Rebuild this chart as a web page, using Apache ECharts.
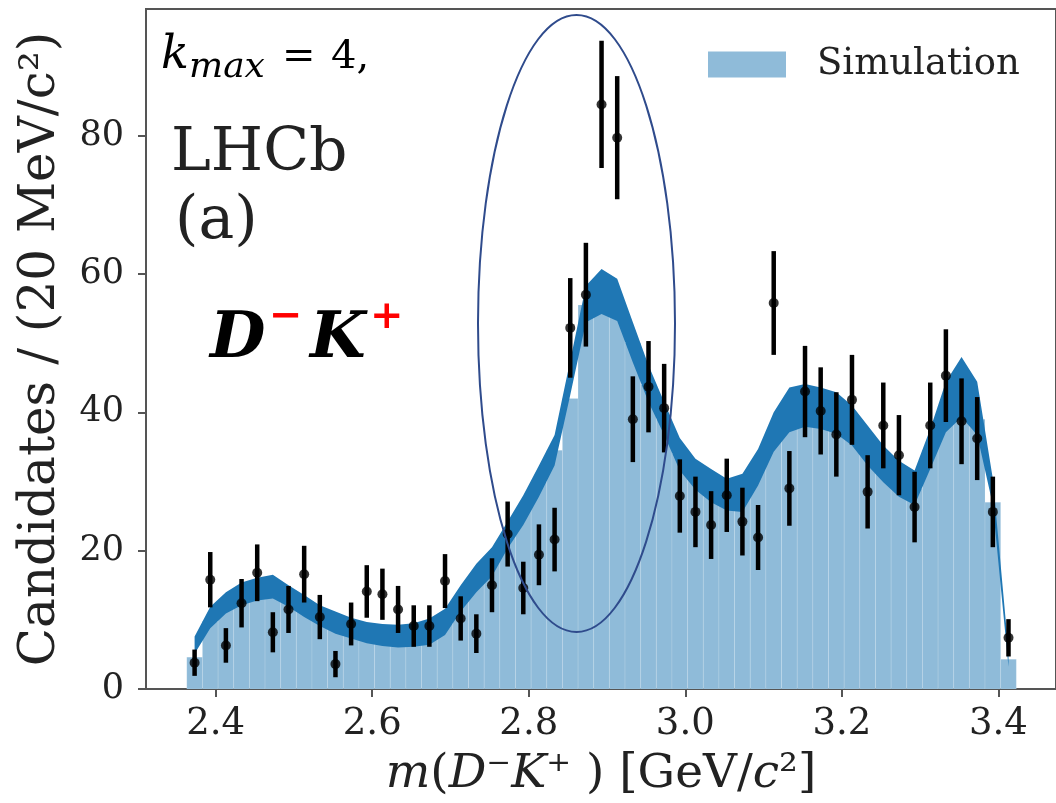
<!DOCTYPE html>
<html>
<head>
<meta charset="utf-8">
<script src="https://cdn.jsdelivr.net/npm/echarts@6/dist/echarts.min.js"></script>
<style>
  html, body { margin: 0; padding: 0; background: #fff; }
  #chart { width: 1056px; height: 803px; }
</style>
</head>
<body>
<div id="chart"></div>
<script>
// bin centres, 20 MeV bins
var binCenters = [2.373, 2.393, 2.413, 2.433, 2.453, 2.473, 2.493, 2.513, 2.533, 2.553,
  2.573, 2.593, 2.613, 2.633, 2.653, 2.673, 2.693, 2.713, 2.733, 2.753,
  2.773, 2.793, 2.813, 2.833, 2.853, 2.873, 2.893, 2.913, 2.933, 2.953,
  2.973, 2.993, 3.013, 3.033, 3.053, 3.073, 3.093, 3.113, 3.133, 3.153,
  3.173, 3.193, 3.213, 3.233, 3.253, 3.273, 3.293, 3.313, 3.333, 3.353,
  3.373, 3.393, 3.413];
var binHalfWidth = 0.01;

// data points and their errors
var dataCounts = [3.8, 15.8, 6.3, 12.4, 16.8, 8.2, 11.5, 16.6, 10.4, 3.6,
  9.4, 14.1, 13.7, 11.5, 9.1, 9.1, 15.6, 10.2, 8.0, 15.0,
  22.4, 14.6, 19.4, 21.6, 52.2, 57.0, 84.5, 79.7, 39.0, 43.7,
  40.6, 27.9, 25.6, 23.7, 28.0, 24.2, 21.9, 55.8, 29.0, 43.0,
  40.2, 36.8, 41.8, 28.5, 38.1, 33.8, 26.3, 38.1, 45.3, 38.7,
  36.2, 25.6, 7.4];
var dataErrors = [1.9, 4.0, 2.5, 3.5, 4.1, 2.9, 3.4, 4.1, 3.2, 1.9,
  3.1, 3.8, 3.7, 3.4, 3.0, 3.0, 3.9, 3.2, 2.8, 3.9,
  4.7, 3.8, 4.4, 4.6, 7.2, 7.5, 9.2, 8.9, 6.2, 6.6,
  6.4, 5.3, 5.1, 4.9, 5.3, 4.9, 4.7, 7.5, 5.4, 6.6,
  6.3, 6.1, 6.5, 5.3, 6.2, 5.8, 5.1, 6.2, 6.7, 6.2,
  6.0, 5.1, 2.7];

// simulation: histogram and band
var simHist = [4.6, 9.8, 11.9, 13.1, 13.8, 14.1, 12.9, 11.4, 10.1, 9.0,
  8.3, 7.6, 7.2, 7.0, 7.1, 7.6, 9.4, 13.0, 16.0, 18.4,
  22.2, 25.8, 30.0, 34.5, 42.0, 55.5, 57.0, 56.0, 50.0, 44.0,
  39.0, 34.0, 31.0, 29.3, 28.0, 28.0, 32.0, 37.0, 40.0, 40.8,
  40.5, 39.7, 38.0, 35.0, 32.5, 30.3, 29.0, 34.5, 40.5, 43.0,
  39.0, 27.0, 4.3];
var bandLow = [5.1, 8.8, 10.9, 12.1, 12.8, 13.1, 11.9, 10.4, 9.1, 8.0,
  7.3, 6.6, 6.2, 6.0, 6.1, 6.4, 7.8, 11.2, 14.0, 16.3,
  20.3, 23.7, 27.8, 32.3, 42.5, 53.0, 54.2, 53.2, 47.2, 41.5,
  36.7, 31.6, 28.8, 27.0, 25.8, 25.6, 29.4, 34.3, 37.1, 37.9,
  37.6, 36.9, 35.2, 32.3, 29.9, 27.8, 26.6, 31.8, 37.1, 39.3,
  36.7, 26.6, 3.2];
var bandHigh = [7.6, 11.9, 14.0, 15.4, 16.1, 16.5, 15.0, 13.6, 12.1, 11.2,
  10.3, 9.7, 9.4, 9.3, 9.5, 10.2, 11.6, 15.0, 18.1, 20.5,
  24.2, 28.0, 32.3, 36.7, 47.5, 58.3, 60.7, 59.3, 53.0, 46.8,
  41.5, 36.3, 33.3, 31.8, 30.4, 31.1, 34.7, 40.0, 43.6, 44.1,
  43.6, 42.9, 41.0, 38.1, 35.2, 33.0, 31.6, 37.6, 44.4, 48.0,
  44.4, 30.4, 5.5];

var xTicks = [2.4, 2.6, 2.8, 3.0, 3.2, 3.4];
var yTicks = [0, 20, 40, 60, 80];

var chart = echarts.init(document.getElementById('chart'));

var serif = 'DejaVu Serif';
var lightBlue = '#8fbbd9';
var darkBlue = '#1f77b4';

// small helper for the free-standing labels
function label(text, left, top, size, extra) {
  var ts = { fontFamily: serif, fontSize: size, fontWeight: 'normal', color: '#000' };
  for (var k in extra) ts[k] = extra[k];
  return { text: text, left: left, top: top, padding: 0, textStyle: ts };
}

chart.setOption({
  animation: false,
  title: [
    label('k', 161, 33, 46, { fontStyle: 'italic' }),
    label('max', 189, 50, 36, { fontStyle: 'italic' }),
    label('=', 282, 38, 40),
    label('4,', 331, 38, 40),
    label('LHCb', 171, 124, 60, { color: '#222' }),
    label('(a)', 175, 192, 60, { color: '#222' }),
    label('D', 210, 308, 64, { fontStyle: 'italic', fontWeight: 'bold' }),
    label('\u2212', 269, 298, 40, { fontWeight: 'bold', color: '#ff0000' }),
    label('K', 310, 308, 64, { fontStyle: 'italic', fontWeight: 'bold' }),
    label('+', 370, 298, 40, { fontWeight: 'bold', color: '#ff0000' })
  ],
  grid: {
    left: 146, top: 9, right: -4, bottom: 112,
    show: true, borderColor: '#555', borderWidth: 2, backgroundColor: 'transparent'
  },
  legend: {
    data: [{ name: 'Simulation', icon: 'rect' }],
    left: 708, top: 46, padding: 0,
    itemWidth: 78, itemHeight: 26,
    selectedMode: false,
    textStyle: { fontFamily: serif, fontSize: 37, color: '#222', padding: [0, 0, 0, 26] }
  },
  xAxis: {
    type: 'value',
    min: 2.3109,
    max: 3.4737,
    splitLine: { show: false },
    axisLine: { lineStyle: { color: '#555', width: 2 } },
    axisTick: { customValues: xTicks, length: 8, lineStyle: { color: '#555', width: 2 } },
    axisLabel: {
      customValues: xTicks, margin: 17,
      fontFamily: serif, fontSize: 37, color: '#222',
      formatter: function (v) { return v.toFixed(1); }
    },
    name: '{it|m}({it|D}\u207B{it|K}\u207A ) [GeV/{it|c}\u00B2]',
    nameLocation: 'middle',
    nameGap: 62,
    nameTextStyle: {
      fontFamily: serif, fontSize: 47, color: '#222',
      rich: { it: { fontFamily: serif, fontSize: 47, fontStyle: 'italic', color: '#222' } }
    }
  },
  yAxis: {
    type: 'value',
    min: 0, max: 98.3, interval: 20,
    splitLine: { show: false },
    axisLine: { show: true, lineStyle: { color: '#555', width: 2 } },
    axisTick: { customValues: yTicks, length: 8, lineStyle: { color: '#555', width: 2 } },
    axisLabel: { customValues: yTicks, margin: 22, fontFamily: serif, fontSize: 35, color: '#222' },
    name: 'Candidates / (20 MeV/c\u00B2)',
    nameLocation: 'middle',
    nameGap: 80,
    nameTextStyle: { fontFamily: serif, fontSize: 50, color: '#222' }
  },
  series: [
    {
      name: 'Simulation',
      type: 'custom',
      clip: true,
      itemStyle: { color: lightBlue },
      data: binCenters.map(function (c, i) { return [c - binHalfWidth, c + binHalfWidth, simHist[i]]; }),
      renderItem: function (params, api) {
        var p0 = api.coord([api.value(0), api.value(2)]);
        var p1 = api.coord([api.value(1), 0]);
        return {
          type: 'rect',
          shape: { x: p0[0], y: p0[1], width: p1[0] - p0[0], height: p1[1] - p0[1] },
          style: { fill: lightBlue, stroke: 'rgba(255,255,255,0.12)', lineWidth: 1 }
        };
      },
      z: 1
    },
    {
      name: 'band',
      type: 'custom',
      clip: true,
      data: [[binCenters[0], bandLow[0]]],
      renderItem: function (params, api) {
        var pts = [];
        for (var i = 0; i < binCenters.length; i++) pts.push(api.coord([binCenters[i], bandLow[i]]));
        for (var j = binCenters.length - 1; j >= 0; j--) pts.push(api.coord([binCenters[j], bandHigh[j]]));
        return { type: 'polygon', shape: { points: pts }, style: { fill: darkBlue } };
      },
      z: 2
    },
    {
      name: 'errors',
      type: 'custom',
      clip: true,
      data: binCenters.map(function (c, i) { return [c, dataCounts[i] - dataErrors[i], dataCounts[i] + dataErrors[i]]; }),
      renderItem: function (params, api) {
        var lo = api.coord([api.value(0), api.value(1)]);
        var hi = api.coord([api.value(0), api.value(2)]);
        return {
          type: 'line',
          shape: { x1: lo[0], y1: lo[1], x2: hi[0], y2: hi[1] },
          style: { stroke: '#000', lineWidth: 4.5 }
        };
      },
      z: 3
    },
    {
      name: 'data',
      type: 'scatter',
      symbol: 'circle',
      symbolSize: 10,
      itemStyle: { color: '#000' },
      data: binCenters.map(function (c, i) { return [c, dataCounts[i]]; }),
      z: 4
    }
  ],
  graphic: [
    { type: 'ellipse', z: 100, shape: { cx: 576.5, cy: 323.5, rx: 98.5, ry: 308.5 },
      style: { fill: 'none', stroke: '#2f4b8c', lineWidth: 2 } }
  ]
});
</script>
</body>
</html>
